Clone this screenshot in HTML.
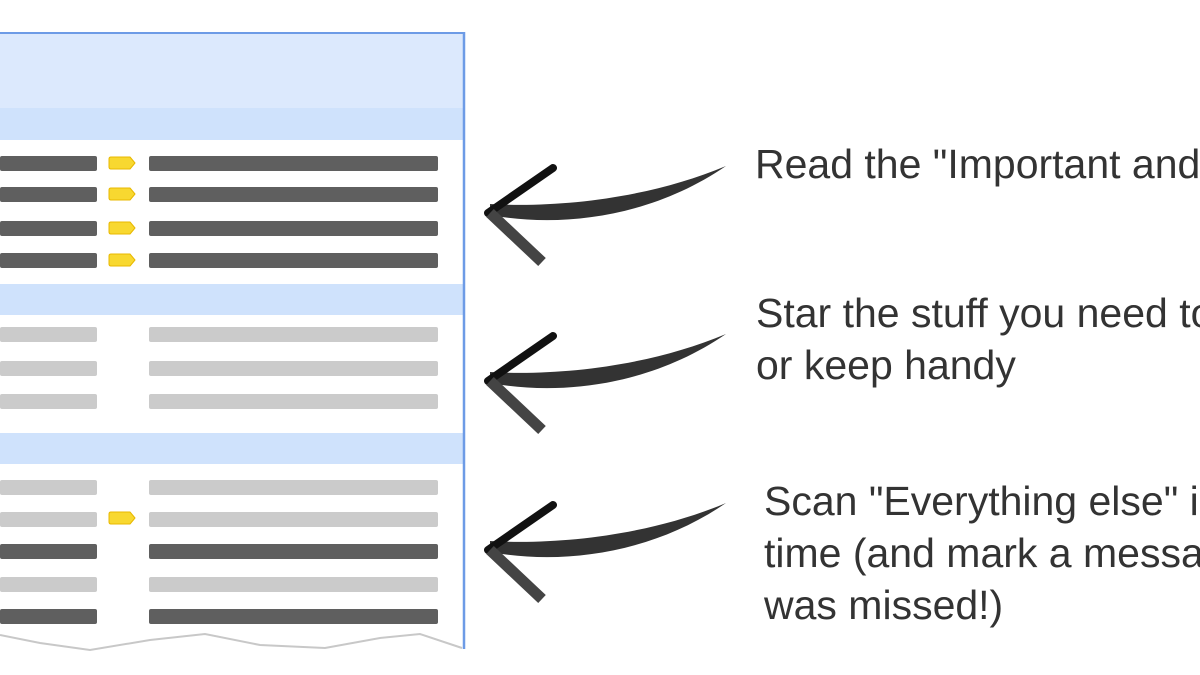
<!DOCTYPE html>
<html><head><style>
body{margin:0;width:1200px;height:675px;background:#fff;overflow:hidden;position:relative;font-family:"Liberation Sans",sans-serif}
.b{position:absolute;height:15px;border-radius:2px}
.d{background:#5f5f5f}.l{background:#cbcbcb}
.clip{position:absolute;left:740px;top:0;width:460px;height:675px;overflow:hidden}
.t{position:absolute;font-size:41px;color:#333;white-space:nowrap;line-height:52px}
</style></head><body>
<svg width="1200" height="675" style="position:absolute;left:0;top:0">
<rect x="0" y="33" width="464" height="75" fill="#dce9fd"/>
<rect x="0" y="108" width="464" height="32" fill="#cfe2fc"/>
<rect x="0" y="284" width="464" height="31" fill="#cfe2fc"/>
<rect x="0" y="433" width="464" height="31" fill="#cfe2fc"/>
<line x1="0" y1="33" x2="465" y2="33" stroke="#6d9be6" stroke-width="2"/>
<line x1="464" y1="32" x2="464" y2="649" stroke="#6d9be6" stroke-width="2.5"/>
<path d="M0,635 L40,643 L90,650 L150,640 L205,634 L260,645 L325,648 L380,638 L420,634 L462,648" fill="none" stroke="#c8c8c8" stroke-width="2"/>
<g fill="#f8d830" stroke="#e8b800" stroke-width="1" stroke-linejoin="round">
<path d="M111,157h19l5,6l-5,6h-19q-2,0-2-2v-8q0-2,2-2z"/><path d="M111,188h19l5,6l-5,6h-19q-2,0-2-2v-8q0-2,2-2z"/>
<path d="M111,222h19l5,6l-5,6h-19q-2,0-2-2v-8q0-2,2-2z"/><path d="M111,254h19l5,6l-5,6h-19q-2,0-2-2v-8q0-2,2-2z"/>
<path d="M111,512h19l5,6l-5,6h-19q-2,0-2-2v-8q0-2,2-2z"/>
</g>
<defs><g id="arr">
<path d="M490,215 C560,228 650,218 726,166 C650,198 560,208 490,204Z" fill="#333"/>
<path d="M488,213 L553,168" stroke="#111" stroke-width="8" stroke-linecap="round"/>
<path d="M490,213 L542,262" stroke="#444" stroke-width="11"/>
</g></defs>
<use href="#arr"/>
<use href="#arr" transform="translate(0,168)"/>
<use href="#arr" transform="translate(0,337)"/>
</svg>
<div class="b d" style="left:0;top:156px;width:97px"></div><div class="b d" style="left:149px;top:156px;width:289px"></div>
<div class="b d" style="left:0;top:187px;width:97px"></div><div class="b d" style="left:149px;top:187px;width:289px"></div>
<div class="b d" style="left:0;top:221px;width:97px"></div><div class="b d" style="left:149px;top:221px;width:289px"></div>
<div class="b d" style="left:0;top:253px;width:97px"></div><div class="b d" style="left:149px;top:253px;width:289px"></div>
<div class="b l" style="left:0;top:327px;width:97px"></div><div class="b l" style="left:149px;top:327px;width:289px"></div>
<div class="b l" style="left:0;top:361px;width:97px"></div><div class="b l" style="left:149px;top:361px;width:289px"></div>
<div class="b l" style="left:0;top:394px;width:97px"></div><div class="b l" style="left:149px;top:394px;width:289px"></div>
<div class="b l" style="left:0;top:480px;width:97px"></div><div class="b l" style="left:149px;top:480px;width:289px"></div>
<div class="b l" style="left:0;top:512px;width:97px"></div><div class="b l" style="left:149px;top:512px;width:289px"></div>
<div class="b d" style="left:0;top:544px;width:97px"></div><div class="b d" style="left:149px;top:544px;width:289px"></div>
<div class="b l" style="left:0;top:577px;width:97px"></div><div class="b l" style="left:149px;top:577px;width:289px"></div>
<div class="b d" style="left:0;top:609px;width:97px"></div><div class="b d" style="left:149px;top:609px;width:289px"></div>
<div class="clip">
<div class="t" style="left:15px;top:138px">Read the "Important and</div>
<div class="t" style="left:16px;top:287px">Star the stuff you need to<br>or keep handy</div>
<div class="t" style="left:24px;top:475px">Scan "Everything else" in<br>time (and mark a message<br>was missed!)</div>
</div>
</body></html>
